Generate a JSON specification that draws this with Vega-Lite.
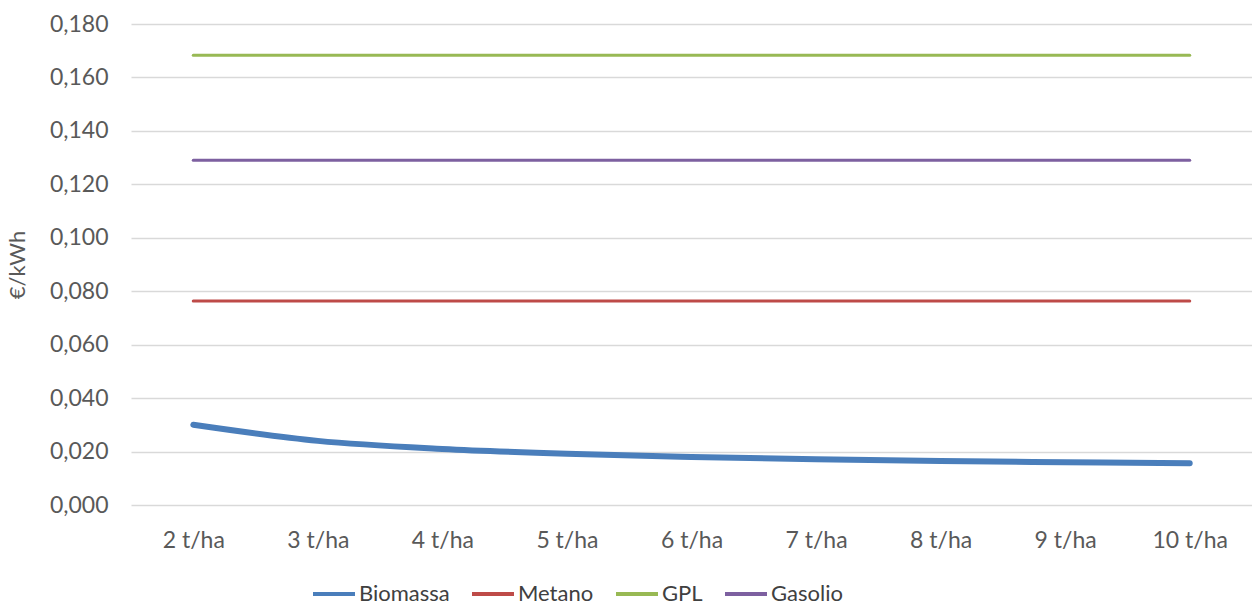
{
  "$schema": "https://vega.github.io/schema/vega-lite/v6.json",
  "width": 1121,
  "height": 481,
  "autosize": {"type": "none"},
  "padding": {"left": 131, "top": 24, "right": 0, "bottom": 101},
  "background": "white",
  "config": {"view": {"stroke": null}, "font": "Lato"},
  "data": {
    "values": [
      {"series": "Biomassa", "dose": "2 t/ha", "value": 0.030},
      {"series": "Biomassa", "dose": "3 t/ha", "value": 0.024},
      {"series": "Biomassa", "dose": "4 t/ha", "value": 0.021},
      {"series": "Biomassa", "dose": "5 t/ha", "value": 0.0192},
      {"series": "Biomassa", "dose": "6 t/ha", "value": 0.018},
      {"series": "Biomassa", "dose": "7 t/ha", "value": 0.0171},
      {"series": "Biomassa", "dose": "8 t/ha", "value": 0.0165},
      {"series": "Biomassa", "dose": "9 t/ha", "value": 0.016},
      {"series": "Biomassa", "dose": "10 t/ha", "value": 0.0156},
      {"series": "Metano", "dose": "2 t/ha", "value": 0.0763},
      {"series": "Metano", "dose": "3 t/ha", "value": 0.0763},
      {"series": "Metano", "dose": "4 t/ha", "value": 0.0763},
      {"series": "Metano", "dose": "5 t/ha", "value": 0.0763},
      {"series": "Metano", "dose": "6 t/ha", "value": 0.0763},
      {"series": "Metano", "dose": "7 t/ha", "value": 0.0763},
      {"series": "Metano", "dose": "8 t/ha", "value": 0.0763},
      {"series": "Metano", "dose": "9 t/ha", "value": 0.0763},
      {"series": "Metano", "dose": "10 t/ha", "value": 0.0763},
      {"series": "GPL", "dose": "2 t/ha", "value": 0.1683},
      {"series": "GPL", "dose": "3 t/ha", "value": 0.1683},
      {"series": "GPL", "dose": "4 t/ha", "value": 0.1683},
      {"series": "GPL", "dose": "5 t/ha", "value": 0.1683},
      {"series": "GPL", "dose": "6 t/ha", "value": 0.1683},
      {"series": "GPL", "dose": "7 t/ha", "value": 0.1683},
      {"series": "GPL", "dose": "8 t/ha", "value": 0.1683},
      {"series": "GPL", "dose": "9 t/ha", "value": 0.1683},
      {"series": "GPL", "dose": "10 t/ha", "value": 0.1683},
      {"series": "Gasolio", "dose": "2 t/ha", "value": 0.129},
      {"series": "Gasolio", "dose": "3 t/ha", "value": 0.129},
      {"series": "Gasolio", "dose": "4 t/ha", "value": 0.129},
      {"series": "Gasolio", "dose": "5 t/ha", "value": 0.129},
      {"series": "Gasolio", "dose": "6 t/ha", "value": 0.129},
      {"series": "Gasolio", "dose": "7 t/ha", "value": 0.129},
      {"series": "Gasolio", "dose": "8 t/ha", "value": 0.129},
      {"series": "Gasolio", "dose": "9 t/ha", "value": 0.129},
      {"series": "Gasolio", "dose": "10 t/ha", "value": 0.129}
    ]
  },
  "mark": {"type": "line", "interpolate": "monotone", "strokeCap": "round"},
  "encoding": {
    "x": {
      "field": "dose",
      "type": "ordinal",
      "sort": ["2 t/ha", "3 t/ha", "4 t/ha", "5 t/ha", "6 t/ha", "7 t/ha", "8 t/ha", "9 t/ha", "10 t/ha"],
      "scale": {"padding": 0.5},
      "axis": {
        "title": null,
        "labelAngle": 0,
        "domain": false,
        "ticks": false,
        "grid": false,
        "labelPadding": 24,
        "labelFontSize": 23,
        "labelColor": "#595959"
      }
    },
    "y": {
      "field": "value",
      "type": "quantitative",
      "scale": {"domain": [0, 0.18], "nice": false, "zero": true},
      "axis": {
        "values": [0, 0.02, 0.04, 0.06, 0.08, 0.1, 0.12, 0.14, 0.16, 0.18],
        "labelExpr": "replace(format(datum.value, '.3f'), '.', ',')",
        "title": "€/kWh",
        "titleFontSize": 22,
        "titleFontWeight": "normal",
        "titleColor": "#595959",
        "titlePadding": 20,
        "domain": false,
        "ticks": false,
        "labelPadding": 23,
        "labelFontSize": 23,
        "labelColor": "#595959",
        "gridColor": "#d9d9d9",
        "gridWidth": 1.5
      }
    },
    "color": {
      "field": "series",
      "type": "nominal",
      "sort": ["Biomassa", "Metano", "GPL", "Gasolio"],
      "scale": {
        "domain": ["Biomassa", "Metano", "GPL", "Gasolio"],
        "range": ["#4a7ebb", "#be4b48", "#98b954", "#7d60a0"]
      },
      "legend": {
        "title": null,
        "orient": "none",
        "legendX": 180,
        "legendY": 547,
        "direction": "horizontal",
        "symbolType": "stroke",
        "symbolSize": 1764,
        "symbolStrokeWidth": 4,
        "labelOffset": 2,
        "columnPadding": 14,
        "labelFontSize": 22,
        "labelColor": "#404040"
      }
    },
    "strokeWidth": {
      "condition": {"test": "datum.series === 'Biomassa'", "value": 6},
      "value": 3
    }
  }
}
